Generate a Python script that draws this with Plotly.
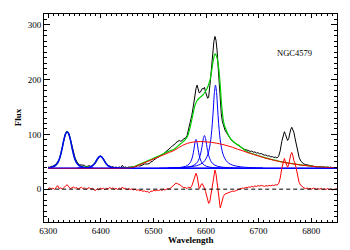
import plotly.graph_objects as go

# ---------------- data ----------------
# observed spectrum (black) and residual (red, lower) share one wavelength grid
WAVE = [6300, 6303, 6306, 6309, 6312, 6315, 6318, 6321, 6324, 6327,
        6330, 6333, 6336, 6339, 6342, 6345, 6348, 6351, 6354, 6357,
        6360, 6363, 6366, 6369, 6372, 6375, 6378, 6381, 6384, 6387,
        6390, 6393, 6396, 6399, 6402, 6405, 6408, 6411, 6414, 6417,
        6420, 6423, 6426, 6429, 6432, 6435, 6438, 6441, 6444, 6447,
        6450, 6453, 6456, 6459, 6462, 6465, 6468, 6471, 6474, 6477,
        6480, 6483, 6486, 6489, 6492, 6495, 6498, 6501, 6504, 6507,
        6510, 6513, 6516, 6519, 6522, 6525, 6528, 6531, 6534, 6537,
        6540, 6543, 6546, 6549, 6552, 6555, 6558, 6561, 6564, 6567,
        6570, 6573, 6576, 6579,
        6581, 6583, 6585, 6587, 6589, 6591, 6593, 6595, 6597, 6599,
        6601, 6603, 6605, 6607, 6609, 6611, 6613, 6615, 6617, 6619,
        6621, 6623, 6625, 6627, 6629, 6631, 6633,
        6636, 6639, 6642, 6645, 6648, 6651, 6654, 6657, 6660, 6663,
        6666, 6669, 6672, 6675, 6678, 6681, 6684, 6687, 6690, 6693,
        6696, 6699, 6702, 6705, 6708, 6711, 6714, 6717, 6720, 6723,
        6726, 6729, 6732, 6735, 6738, 6741, 6744, 6747,
        6749, 6751, 6753, 6755, 6757, 6759, 6761, 6763, 6765, 6767,
        6769, 6771, 6773, 6775, 6777,
        6780, 6783, 6786, 6789, 6792, 6795, 6798, 6801, 6804, 6807,
        6810, 6813, 6816, 6819, 6822, 6825, 6828, 6831, 6834, 6837,
        6840, 6843, 6846, 6849]

FLUX = [40.5, 40, 41.5, 42, 44, 46, 50, 55, 65, 78,
        92, 102, 106, 102, 92, 79, 67, 57, 51, 46,
        44.5, 44, 43, 43.5, 41, 42.5, 43, 41.5, 43, 45,
        48, 54, 57.5, 61, 59, 55, 49, 46, 42, 42.5,
        40.5, 41, 39.5, 40.5, 39, 40.5, 39.5, 43.5, 39.5, 40.5,
        39, 40.5, 40, 41, 40, 41.5, 41.5, 43, 42, 44,
        44.5, 46, 45.5, 46, 46.5, 50, 50.5, 54, 55, 58,
        58.5, 61.5, 62, 64.5, 65.5, 68, 70.5, 73, 77, 80,
        81.5, 85, 87, 89, 87.5, 89, 92.5, 93, 98, 109,
        122, 135, 152, 174,
        184, 190, 182, 176, 177, 182, 184, 183, 186, 178,
        172, 166, 168, 182, 205, 228, 254, 270, 279, 272,
        254, 225, 190, 160, 138, 124, 116,
        108, 103, 98, 93, 90, 87, 85, 82, 80.5, 78,
        76, 75.5, 73, 72.5, 71, 70.5, 69, 69.5, 67.5, 68,
        66, 66.5, 64.5, 65, 63, 62, 62.5, 60.5, 61, 59,
        59.5, 58, 58.5, 57, 60, 70, 87, 100,
        105, 100, 93, 89, 92, 102, 109, 113, 109, 104,
        94, 85, 75, 65, 58,
        51.5, 48.5, 46, 45, 44.5, 43, 43.5, 42, 42.5, 41.5,
        40.5, 41.5, 40.5, 41.5, 40, 40.5, 39.5, 40.5, 39.5, 40,
        38.5, 39.5, 39, 39]

RESID = [1, 2.5, 0.5, 2, -0.5, 3, 6.5, 1, 2.5, 0,
         3.5, 6, 8, 4, 1, 2.5, 4, 1.5, 3, 0.5,
         2, 3.5, 1, 2.5, -0.5, 1.5, 3, 0, 2, -1,
         -2.5, 1, -1.5, 2, 0.5, 1.5, -1, 2, 0.5, 3,
         1, 2.5, 0, 1.5, -0.5, 2, 0, 4, 0.5, 1.5,
         -1, 1, -0.5, 0.5, -1.5, 0, -2, -1, -3, -2,
         -4, -3, -5, -4, -6.5, -3.5, -4, -2, -3, -1.5,
         -2.5, -1, -2.5, -0.5, -1.5, 0, 1, 0.5, 3, 5,
         8, 11, 10, 9, 7, 4, 2.5, 3, 1, 4,
         2, 6, 14, 25,
         29, 24, 10, 1, 4, 9, 10, 7, 2, -4,
         -10, -20, -26, -24, -11, 4, 18, 30, 35, 28,
         12, -5, -25, -34, -28, -19, -13,
         -9, -7.5, -6, -5, -4.5, -3.5, -4, -2.5, -1.5, 0,
         0.5, 2, 1.5, 3, 2.5, 4, 3.5, 5, 4, 6,
         5, 6.5, 5.5, 7, 6, 5, 6.5, 5.5, 7, 6,
         7.5, 6.5, 8, 7.5, 10, 20, 38, 52,
         56, 50, 43, 40, 44, 55, 63, 67, 62, 52,
         48, 40, 30, 20, 12,
         7, 4, 2.5, 1, 2, 0.5, 1.5, 0, 2, 0.5,
         -0.5, 1, 0, 1.5, -1, 0.5, -0.5, 1, -1, 0.5,
         -1.5, 0, -0.5, 0]

# total fit (green)
GREEN_W = [6300, 6303, 6309, 6314, 6318, 6321, 6324, 6327, 6330, 6333,
           6336, 6339, 6342, 6345, 6348, 6351, 6354, 6358, 6363, 6369,
           6376, 6381, 6384, 6387, 6390, 6393, 6396, 6399, 6402, 6405,
           6408, 6411, 6414, 6417, 6421, 6427, 6434, 6444, 6450, 6460,
           6470, 6480, 6490, 6500, 6510, 6520, 6530, 6540, 6548, 6555,
           6560, 6565, 6570, 6575, 6579, 6583, 6589, 6594, 6598, 6603,
           6608, 6611, 6614, 6617, 6619, 6621, 6624, 6627, 6630, 6634,
           6638, 6642, 6647, 6652, 6658, 6664, 6670, 6680, 6690, 6700,
           6710, 6720, 6730, 6740, 6750, 6760, 6770, 6780, 6790, 6800,
           6810, 6820, 6830, 6840, 6850]
GREEN_F = [38.7, 39.2, 41, 43.5, 48, 54, 64, 77, 91, 101,
           105, 101, 91, 77, 64, 54.2, 48.3, 44, 41.6, 40.4,
           40.4, 41.5, 43, 45.8, 49.7, 54.6, 58.6, 60.1, 58.6, 54.6,
           49.6, 45.6, 42.6, 41.1, 39.9, 39.1, 38.7, 38.6, 39, 40.3,
           43.8, 48, 52.2, 56.4, 60.6, 65, 69.5, 73.5, 80, 85.5,
           90, 97, 114, 136, 153, 162, 168, 172, 177, 186,
           201, 218, 236, 247, 245, 240, 222, 190, 150, 120,
           109, 100, 92, 87, 82.5, 79, 74, 67.5, 64.2, 61,
           58, 55.4, 52.9, 50.8, 48.8, 47.3, 45.7, 44.2, 43.2, 42.2,
           41.2, 40.6, 40, 39.6, 39.2]

# narrow components (blue)
OI6300_W = [6300, 6303, 6309, 6314, 6318, 6321, 6324, 6327, 6330, 6333, 6336,
            6339, 6342, 6345, 6348, 6351, 6354, 6358, 6363, 6369, 6376, 6386]
OI6300_F = [38.7, 39.2, 41, 43.5, 48, 54, 64, 77, 91, 101, 105,
            101, 91, 77, 64, 54, 48, 43.5, 41, 39.5, 38.8, 38.3]
OI6364_W = [6355, 6364, 6371, 6377, 6381, 6384, 6387, 6390, 6393, 6396, 6399,
            6402, 6405, 6408, 6411, 6414, 6417, 6421, 6427, 6434, 6444]
OI6364_F = [38.2, 38.5, 39, 39.8, 41, 42.5, 45.5, 49.5, 54.5, 58.5, 60,
            58.5, 54.5, 49.5, 45.5, 42.5, 41, 39.8, 39, 38.5, 38.2]
NII6548_W = [6511, 6526, 6541, 6549, 6556, 6561, 6565, 6568, 6571, 6573, 6575, 6577, 6579, 6581,
             6583, 6585, 6587, 6589, 6591, 6594, 6597, 6601, 6606, 6613, 6621, 6636, 6651]
NII6548_F = [38.3, 38.5, 39, 39.5, 40.4, 41.7, 43.6, 46, 50.3, 55, 62.2, 72.7, 84.8, 91,
             84.8, 72.7, 62.2, 55, 50.3, 46, 43.6, 41.7, 40.4, 39.5, 39, 38.5, 38.3]
HALPHA_W = [6527, 6542, 6557, 6565, 6572, 6577, 6581, 6584, 6587, 6589, 6591, 6593, 6595, 6597,
            6599, 6601, 6603, 6605, 6607, 6610, 6613, 6617, 6622, 6629, 6637, 6652, 6667]
HALPHA_F = [38.5, 38.8, 39.6, 40.4, 41.8, 43.7, 46.5, 50, 55.8, 61.9, 70.4, 81.5, 92.8, 98,
            92.8, 81.5, 70.4, 61.9, 55.8, 50, 46.5, 43.7, 41.8, 40.4, 39.6, 38.8, 38.5]
NII6583_W = [6528, 6548, 6563, 6578, 6586, 6593, 6598, 6602, 6605, 6608, 6610, 6612, 6614, 6616, 6618,
             6620, 6622, 6624, 6626, 6628, 6631, 6634, 6638, 6643, 6650, 6658, 6673, 6688, 6708]
NII6583_F = [38.8, 39.3, 40.1, 42, 44.1, 47.6, 52.5, 59.6, 68.4, 83.1, 98.5, 120.1, 148.2, 176.8, 190,
             176.8, 148.2, 120.1, 98.5, 83.1, 68.4, 59.6, 52.5, 47.6, 44.1, 42, 40.1, 39.3, 38.8]

# continuum level (blue) and broad component (red)
BASE_W = [6300, 6850]
BASE_F = [38, 38]
BROAD_W = [6300, 6440, 6450, 6460, 6470, 6480, 6490, 6500, 6510, 6520, 6530, 6540, 6550, 6560,
           6570, 6580, 6590, 6600, 6610, 6620, 6630, 6640, 6650, 6660, 6670, 6680, 6690, 6700,
           6710, 6720, 6730, 6740, 6750, 6760, 6770, 6780, 6790, 6800, 6810, 6820, 6830, 6840, 6850]
BROAD_F = [38, 38, 38.3, 39.5, 43, 47, 51, 55, 59, 63, 67, 71, 77, 82,
           85, 86.5, 87, 86.5, 85.5, 84, 82, 79.5, 76.5, 73, 70, 66.5, 63.5, 60.5,
           57.5, 55, 52.5, 50.5, 48.5, 47, 45.5, 44, 43, 42, 41, 40.4, 39.8, 39.4, 39]

ZERO_W = [6300, 6850]
ZERO_F = [0, 0]

X_TICKS = [6300, 6400, 6500, 6600, 6700, 6800]
Y_TICKS = [0, 100, 200, 300]
LABEL = "NGC4579"

assert len(WAVE) == len(FLUX) == len(RESID)

# ---------------- figure ----------------
fig = go.Figure()


def add(x, y, color, width, shape="linear", opacity=1.0, dash=None):
    fig.add_trace(go.Scatter(x=x, y=y, mode="lines", opacity=opacity, hoverinfo="skip",
                             showlegend=False,
                             line=dict(color=color, width=width, shape=shape, dash=dash)))


add(WAVE, FLUX, "black", 1)
add(GREEN_W, GREEN_F, "#00d000", 1.2, "spline")
for w, f, lw in [(OI6300_W, OI6300_F, 1.5), (OI6364_W, OI6364_F, 1.5),
                 (NII6548_W, NII6548_F, 1), (HALPHA_W, HALPHA_F, 1), (NII6583_W, NII6583_F, 1)]:
    add(w, f, "#0000ff", lw, "spline")
add(BASE_W, BASE_F, "#0000ff", 1.5)
add(BROAD_W, BROAD_F, "#ff0000", 1, "spline")
add(BASE_W, BASE_F, "#0000ff", 1.5, opacity=0.45)
add(WAVE, RESID, "#ff0000", 1)
add(ZERO_W, ZERO_F, "black", 1, dash="4px,3px")

FONT = "Liberation Serif"
# the page body adds an 8px offset, so the figure is 342x242 with margins shifted by 8px
fig.update_layout(
    width=342, height=242,
    margin=dict(l=36, r=13, t=6, b=28),
    paper_bgcolor="white", plot_bgcolor="white",
    showlegend=False,
    font=dict(family=FONT, size=9, color="black"),
)
common = dict(showline=True, linecolor="black", linewidth=1, mirror="allticks",
              ticks="inside", tickcolor="black", tickwidth=1, showgrid=False,
              zeroline=False, tickfont=dict(family=FONT, size=9, color="black"))
fig.update_xaxes(range=[6292, 6849], tickvals=X_TICKS, ticklen=4,
                 minor=dict(ticks="inside", ticklen=2, dtick=10, tick0=6300,
                            tickcolor="black", showgrid=False),
                 **common)
fig.update_yaxes(range=[-60, 320], tickvals=Y_TICKS, ticklen=6,
                 minor=dict(ticks="inside", ticklen=3, dtick=10, tick0=0,
                            tickcolor="black", showgrid=False),
                 **common)

fig.add_annotation(text="<b>Wavelength</b>", xref="paper", yref="paper", x=0.5, y=-0.088,
                   showarrow=False, xanchor="center", yanchor="middle",
                   font=dict(family=FONT, size=9, color="black"))
fig.add_annotation(text="<b>Flux</b>", xref="paper", yref="paper", x=-0.088, y=0.505,
                   showarrow=False, xanchor="center", yanchor="middle", textangle=-90,
                   font=dict(family=FONT, size=9, color="black"))
fig.add_annotation(text=LABEL, xref="x", yref="y", x=6769, y=248,
                   showarrow=False, xanchor="center", yanchor="middle",
                   font=dict(family=FONT, size=8.5, color="black"))

fig.write_html("out.html", config={"displayModeBar": False})
